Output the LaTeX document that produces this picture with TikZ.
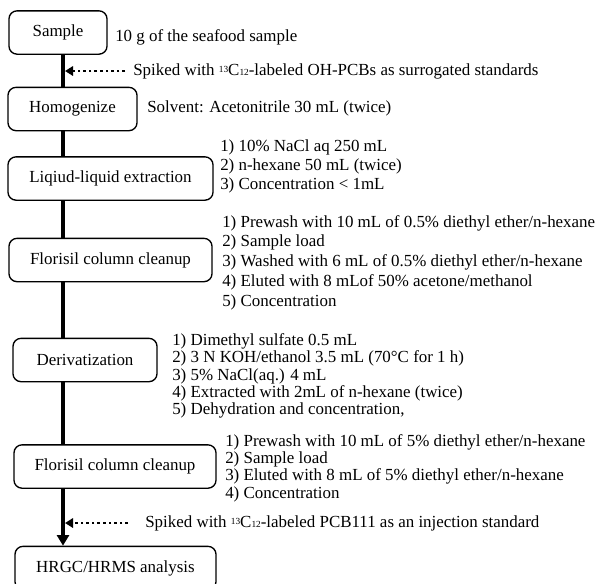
\documentclass[tikz,border=0pt]{standalone}
\usepackage{fontspec}
\setmainfont{Liberation Serif}
\usetikzlibrary{arrows.meta,positioning}

\begin{document}
\begin{tikzpicture}[x=0.75pt,y=-0.75pt,
    stage/.style={draw,line width=1pt,rounded corners=6pt,minimum height=32.5pt,
      inner sep=0pt,font=\fontsize{12.7}{15}\selectfont},
    note/.style={anchor=west,inner sep=0pt,align=left,font=\fontsize{12.7}{15}\selectfont},
    flow/.style={line width=3pt},
    spike/.style={line width=1.5pt,dash pattern=on 2pt off 2.2pt,
      -{Triangle[length=6pt,width=7pt]},shorten >=1.5pt}]
  \useasboundingbox (0,0) rectangle (598,583);
  \coordinate (trunk) at (63,0);

  \node[stage,minimum width=73.5pt] (sample) at (58,32.5) {Sample};
  \node[stage,minimum width=96.75pt] (homog) at (72.5,109) {Homogenize};
  \node[stage,minimum width=153.75pt] (lle) at (110.5,178.5) {Liqiud-liquid extraction};
  \node[stage,minimum width=152.25pt] (cleanA) at (110.5,260) {Florisil column cleanup};
  \node[stage,minimum width=108pt] (deriv) at (85,360) {Derivatization};
  \node[stage,minimum width=151.5pt] (cleanB) at (115,466.5) {Florisil column cleanup};
  \node[stage,minimum width=150.75pt] (hrgc) at (115.5,568) {HRGC/HRMS analysis};

  \node[note] (mass) at (115,37) {10 g of the seafood sample};
  \node[note] (spikeA) at (133,71)
    {Spiked with {\scriptsize\raisebox{0.6ex}{13}}C{\scriptsize 12}-labeled OH-PCBs as surrogated standards};
  \node[note] (solvent) at (147,108) {Solvent: Acetonitrile 30 mL (twice)};
  \node[note,font=\fontsize{12.7}{14.3}\selectfont] (lleSteps) at (220,166)
    {1) 10\% NaCl aq 250 mL\\2) n-hexane 50 mL (twice)\\3) Concentration < 1mL};
  \node[note,font=\fontsize{12.7}{14.8}\selectfont] (cleanASteps) at (222,262.5)
    {1) Prewash with 10 mL of 0.5\% diethyl ether/n-hexane\\2) Sample load\\
     3) Washed with 6 mL of 0.5\% diethyl ether/n-hexane\\
     4) Eluted with 8 mLof 50\% acetone/methanol\\5) Concentration};
  \node[note,font=\fontsize{12.7}{13}\selectfont] (derivSteps) at (172,376)
    {1) Dimethyl sulfate 0.5 mL\\2) 3 N KOH/ethanol 3.5 mL (70°C for 1 h)\\
     3) 5\% NaCl(aq.) 4 mL\\4) Extracted with 2mL of n-hexane (twice)\\
     5) Dehydration and concentration,};
  \node[note,font=\fontsize{12.7}{13}\selectfont] (cleanBSteps) at (225,468)
    {1) Prewash with 10 mL of 5\% diethyl ether/n-hexane\\2) Sample load\\
     3) Eluted with 8 mL of 5\% diethyl ether/n-hexane\\4) Concentration};
  \node[note] (spikeB) at (145,523)
    {Spiked with {\scriptsize\raisebox{0.6ex}{13}}C{\scriptsize 12}-labeled PCB111 as an injection standard};

  \draw[flow] (sample.south -| trunk) -- (homog.north -| trunk);
  \draw[flow] (homog.south -| trunk) -- (lle.north -| trunk);
  \draw[flow] (lle.south -| trunk) -- (cleanA.north -| trunk);
  \draw[flow] (cleanA.south -| trunk) -- (deriv.north -| trunk);
  \draw[flow] (deriv.south -| trunk) -- (cleanB.north -| trunk);
  \draw[flow,-{Triangle[length=8pt,width=9pt]}] (cleanB.south -| trunk) -- (hrgc.north -| trunk);

  \draw[spike,shorten <=6pt] (spikeA.west) -- (spikeA.west -| trunk);
  \draw[spike,shorten <=12.75pt] (spikeB.west) -- (spikeB.west -| trunk);
\end{tikzpicture}
\end{document}
